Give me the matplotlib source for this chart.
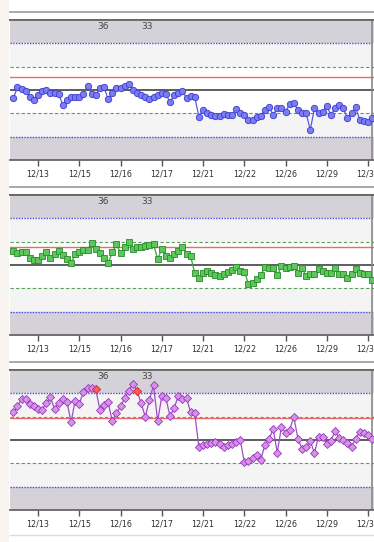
import numpy as np
import matplotlib.pyplot as plt
from matplotlib.lines import Line2D
from matplotlib.patches import Rectangle

# sample index, tick labels
tick_pos = [0, 10, 20, 30, 40, 50, 60, 70, 80]
tick_labels = ['12/13', '12/15', '12/16', '12/17', '12/21', '12/22', '12/26', '12/29', '12/31']
note_pos = [15.8, 26.4]
note_text = ['36', '33']

# values in sigma units, index -6 .. 81
vals1 = [-0.36, 0.11, 0.03, -0.03, -0.29, -0.43, -0.21, -0.03, 0.0, -0.11, -0.14, -0.17, -0.64,
         -0.43, -0.29, -0.31, -0.29, -0.19, 0.17, -0.19, -0.21, 0.07, 0.11, -0.40, -0.11, 0.10,
         0.10, 0.17, 0.26, 0.0, -0.14, -0.21, -0.29, -0.40, -0.31, -0.21, -0.14, -0.17, -0.53,
         -0.21, -0.11, -0.03, -0.36,
         -0.26, -0.31, -1.14, -0.86, -1.0, -1.07, -1.11, -1.11, -1.03, -1.07, -1.07, -0.83, -1.0,
         -1.07, -1.29, -1.29, -1.17, -1.11, -0.86, -0.71, -1.07, -0.79, -0.79, -0.93, -0.60, -0.54,
         -0.86, -1.0, -1.0, -1.71, -0.79, -1.0, -0.93, -0.69, -1.07, -0.79, -0.64, -0.79, -1.21,
         -1.0, -0.74, -1.29, -1.31, -1.36, -1.21]
vals2 = [0.61, 0.51, 0.56, 0.54, 0.32, 0.23, 0.21, 0.39, 0.56, 0.28, 0.46, 0.61, 0.42, 0.25,
         0.07, 0.46, 0.56, 0.63, 0.65, 0.96, 0.68, 0.51, 0.32, 0.07, 0.54, 0.89, 0.51, 0.75, 0.99,
         0.70, 0.75, 0.77, 0.82, 0.85, 0.89, 0.25, 0.68, 0.37, 0.28, 0.46, 0.61, 0.79, 0.46,
         0.37, -0.35, -0.55, -0.35, -0.24, -0.34, -0.45, -0.48, -0.38, -0.31, -0.21, -0.10, -0.24,
         -0.28, -0.80, -0.76, -0.59, -0.42, -0.10, -0.14, -0.14, -0.45, -0.06, -0.14, -0.10, -0.06,
         -0.34, -0.14, -0.48, -0.38, -0.38, -0.17, -0.24, -0.34, -0.34, -0.14, -0.38, -0.38, -0.56,
         -0.38, -0.17, -0.34, -0.38, -0.38, -0.66]
vals3 = [1.18, 1.44, 1.75, 1.75, 1.55, 1.44, 1.32, 1.30, 1.58, 1.83, 1.32, 1.58, 1.75, 1.65,
         0.76, 1.69, 1.55, 2.07, 2.25, 2.21, 2.17, 1.30, 1.51, 1.61, 0.80, 1.15, 1.44, 1.79, 2.11,
         2.42, 2.11, 1.58, 0.99, 1.72, 2.35, 0.80, 1.89, 1.79, 1.01, 1.37, 1.89, 1.75, 1.79,
         1.18, 1.15, -0.32, -0.23, -0.18, -0.11, -0.08, -0.18, -0.28, -0.23, -0.18, -0.08, 0.0,
         -0.93, -0.89, -0.79, -0.65, -0.85, -0.20, 0.03, 0.48, -0.54, 0.56, 0.31, 0.45, 0.99, 0.06,
         -0.37, -0.32, -0.04, -0.56, 0.14, 0.14, -0.18, -0.04, 0.38, 0.10, 0.0, -0.11, -0.28, 0.06,
         0.34, 0.31, 0.20, 0.03]
flagged3 = [14, 24]  # out-of-control points (sample index)
target = [0.56, 0.77, 0.95]

x = np.arange(-6, -6 + len(vals1))

W, H = 374, 542
fig = plt.figure(figsize=(W / 100, H / 100), dpi=100)

# off-white strip on the left edge of the screenshot
fig.add_artist(Rectangle((0, 0), 9 / W, 1, transform=fig.transFigure,
                         color='#f8f5f1', lw=0, zorder=0))

styles = [
    dict(color='#5a5ae6', marker='o', mfc='#7c7cf2', mec='#3a3ad0', ms=4.6),
    dict(color='#3fa03f', marker='s', mfc='#5cc85c', mec='#2a8a2a', ms=4.3),
    dict(color='#a04cc4', marker='D', mfc='#d890ea', mec='#9438b8', ms=3.7),
]
tops = [20, 195, 370]
grey = '#d4d2d8'

for k, vals in enumerate([vals1, vals2, vals3]):
    top = tops[k]
    ax = fig.add_axes([10 / W, 1 - (top + 140) / H, 364 / W, 140 / H])
    ax.set_xlim(-6.8, 81.45)
    ax.set_ylim(-3, 3)

    # zones
    ax.axhspan(2, 3, color=grey, lw=0)
    ax.axhspan(-3, -2, color=grey, lw=0)
    ax.axhspan(1, 2, color='#f4f4f4', lw=0)
    ax.axhspan(-2, -1, color='#f4f4f4', lw=0)
    for s in (2, -2):
        ax.axhline(s, color='#4a4ae8', ls=(0, (1, 1)), lw=1)
    for s in (1, -1):
        ax.axhline(s, color='#5aa05a', ls=(0, (3, 2)), lw=0.8)
    ax.axhline(target[k], color='#e86a6a', lw=1)
    ax.axhline(0, color='#505050', lw=1.3)
    ax.axvline(81.0, color='#8a8a8a', lw=1.2)

    st = styles[k]
    ax.plot(x, vals, color=st['color'], lw=0.9, marker=st['marker'], ms=st['ms'],
            mfc=st['mfc'], mec=st['mec'], mew=0.6, zorder=5)
    if k == 2:
        fy = [vals[i + 6] for i in flagged3]
        ax.plot(flagged3, fy, ls='none', marker='D', ms=3.9, mfc='#ff5a5a', mec='#e03030',
                mew=0.6, zorder=6)

    for px, t in zip(note_pos, note_text):
        ax.text(px, 0.955, t, transform=ax.get_xaxis_transform(), ha='center',
                va='center', fontsize=6.5, color='#444444')

    for side in ('left', 'right'):
        ax.spines[side].set_visible(False)
    for side in ('top', 'bottom'):
        ax.spines[side].set_color('#666666')
        ax.spines[side].set_linewidth(1.3)
    ax.set_yticks([])
    ax.set_xticks(tick_pos)
    ax.set_xticklabels(tick_labels)
    ax.tick_params(axis='x', direction='out', length=4, width=1, color='#555555',
                   labelsize=5.8, labelcolor='#303030', pad=3)
    sec = ax.secondary_xaxis('top')
    sec.set_xticks(tick_pos)
    sec.set_xticklabels([])
    sec.tick_params(direction='in', length=4, width=1, color='#555555')
    sec.spines['top'].set_color('#666666')
    sec.spines['top'].set_linewidth(1.3)

    # panel separator above each chart
    fig.add_artist(Line2D([10 / W, 1], [1 - (top - 8) / H] * 2, color='#9a9a9a',
                          lw=1.2, transform=fig.transFigure))

fig.add_artist(Line2D([10 / W, 1], [1 - 535 / H] * 2, color='#dddddd', lw=1,
                      transform=fig.transFigure))

fig.savefig('out.png', dpi=100)
